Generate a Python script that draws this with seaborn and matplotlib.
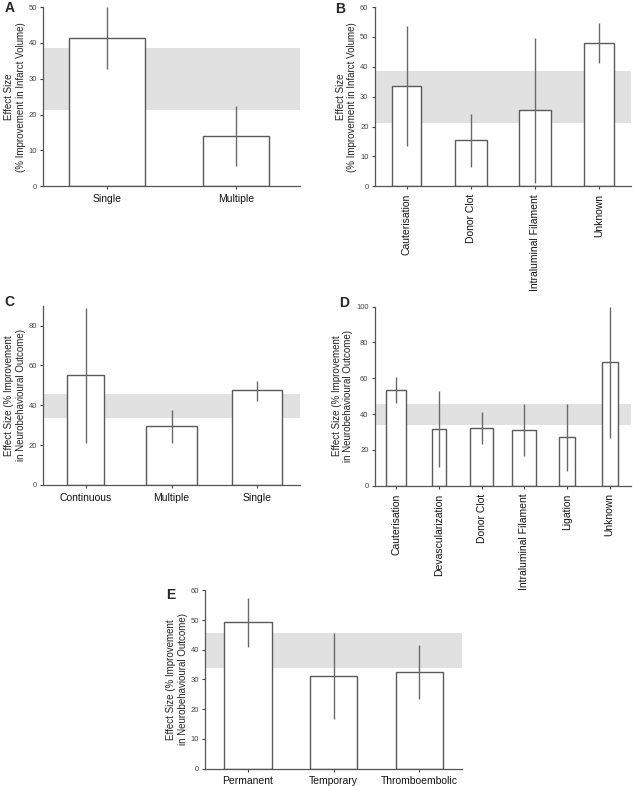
import numpy as np
import pandas as pd
import seaborn as sns
import matplotlib.pyplot as plt

sns.set_theme(style="ticks")
plt.rcParams['font.family'] = ['Liberation Sans', 'DejaVu Sans']

# panel A - infarct volume by dosing
a_cats = ['Single', 'Multiple']
a_vals = [41.5, 14.0]
a_lo = [32.8, 5.7]
a_hi = [50.0, 22.3]
a_width = [0.59, 0.51]

# panel B - infarct volume by occlusion method
b_cats = ['Cauterisation', 'Donor Clot', 'Intraluminal Filament', 'Unknown']
b_vals = [33.7, 15.4, 25.4, 47.9]
b_lo = [13.5, 6.6, 1.1, 41.2]
b_hi = [53.8, 24.3, 49.6, 54.6]
b_width = [0.45, 0.49, 0.51, 0.47]

# panel C - neurobehavioural outcome by dosing
c_cats = ['Continuous', 'Multiple', 'Single']
c_vals = [55.2, 29.5, 47.5]
c_lo = [21.0, 21.3, 42.4]
c_hi = [89.0, 37.8, 52.3]
c_width = [0.43, 0.60, 0.58]

# panel D - neurobehavioural outcome by occlusion method
d_cats = ['Cauterisation', 'Devascularization', 'Donor Clot',
          'Intraluminal Filament', 'Ligation', 'Unknown']
d_vals = [53.5, 31.7, 32.5, 31.0, 27.2, 68.8]
d_lo = [46.1, 10.4, 23.3, 16.6, 8.4, 26.9]
d_hi = [60.6, 53.0, 41.2, 45.5, 45.5, 99.5]
d_width = [0.48, 0.34, 0.55, 0.56, 0.38, 0.38]

# panel E - neurobehavioural outcome by ischaemia type
e_cats = ['Permanent', 'Temporary', 'Thromboembolic']
e_vals = [49.3, 31.2, 32.6]
e_lo = [41.0, 16.6, 23.5]
e_hi = [57.4, 45.7, 41.5]
e_width = [0.57, 0.55, 0.55]

# overall effect size ranges (grey bands)
infarct_band = [21.3, 38.7]
neuro_band = [33.8, 45.8]

label_infarct = 'Effect Size\n(% Improvement in Infarct Volume)'
label_neuro = 'Effect Size (% Improvement\nin Neurobehavioural Outcome)'


def panel(ax, letter, cats, vals, lo, hi, widths, band, ymax, ystep, ylabel, rotate=False):
    df = pd.DataFrame({'cat': cats, 'val': vals})
    sns.barplot(data=df, x='cat', y='val', ax=ax, color='white', edgecolor='#5a5a5a',
                linewidth=1.0, errorbar=None, zorder=2, saturation=1)
    # sigmaplot style: bars have their own widths
    for p, w in zip(ax.patches, widths):
        c = p.get_x() + p.get_width() / 2
        p.set_width(w)
        p.set_x(c - w / 2)
    ax.axhspan(band[0], band[1], color='#e1e1e1', zorder=0, lw=0)
    ax.vlines(np.arange(len(cats)), lo, hi, color='#6a6a6a', lw=1.0, zorder=3)
    ax.set_xlim(-0.5, len(cats) - 0.5)
    ax.set_ylim(0, ymax)
    ax.set_yticks(np.arange(0, ymax + 0.1, ystep))
    ax.set_xlabel('')
    ax.set_ylabel(ylabel, fontsize=7, color='#222222', linespacing=1.2, labelpad=2)
    ax.tick_params(axis='y', labelsize=5.5, length=2.5, width=0.8, colors='#444444', pad=2)
    ax.tick_params(axis='x', labelsize=7.5, length=2.5, width=0.8, colors='#444444', pad=3)
    for t in ax.get_xticklabels():
        t.set_color('#111111')
        if rotate:
            t.set_rotation(90)
    sns.despine(ax=ax)
    for s in ['left', 'bottom']:
        ax.spines[s].set_color('#555555')
        ax.spines[s].set_linewidth(0.9)
    return ax.text(-0.2, 1.0, letter, transform=ax.transAxes, fontsize=10, fontweight='bold',
                   ha='left', va='center')


fig = plt.figure(figsize=(6.33, 7.86), dpi=100)
ax_a = fig.add_axes([0.068, 0.763, 0.406, 0.228])
ax_b = fig.add_axes([0.592, 0.763, 0.405, 0.228])
ax_c = fig.add_axes([0.068, 0.383, 0.406, 0.228])
ax_d = fig.add_axes([0.592, 0.382, 0.405, 0.228])
ax_e = fig.add_axes([0.324, 0.022, 0.406, 0.227])

ta = panel(ax_a, 'A', a_cats, a_vals, a_lo, a_hi, a_width, infarct_band, 50, 10, label_infarct)
tb = panel(ax_b, 'B', b_cats, b_vals, b_lo, b_hi, b_width, infarct_band, 60, 10, label_infarct, rotate=True)
tc = panel(ax_c, 'C', c_cats, c_vals, c_lo, c_hi, c_width, neuro_band, 90, 20, label_neuro)
td = panel(ax_d, 'D', d_cats, d_vals, d_lo, d_hi, d_width, neuro_band, 100, 20, label_neuro, rotate=True)
te = panel(ax_e, 'E', e_cats, e_vals, e_lo, e_hi, e_width, neuro_band, 60, 10, label_neuro)

# panel letters, placed like the original figure
ta.set_position((-0.15, 0.995))
tb.set_position((-0.155, 0.99))
tc.set_position((-0.15, 1.02))
td.set_position((-0.14, 1.02))
te.set_position((-0.15, 0.975))

fig.savefig('out.png', dpi=100)
